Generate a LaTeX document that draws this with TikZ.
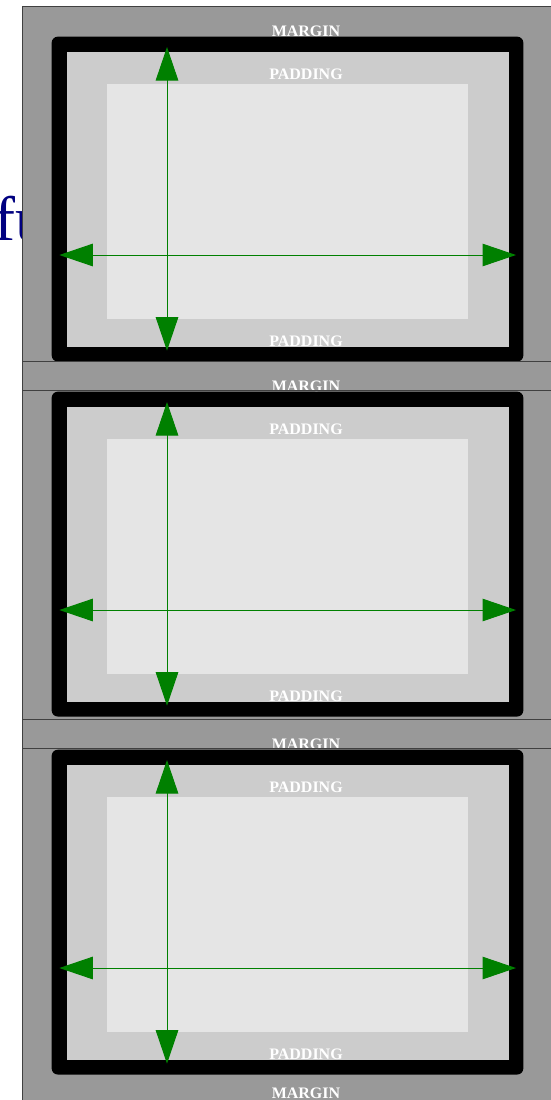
\documentclass[tikz,border=0pt]{standalone}
\usepackage{fontspec}
\setmainfont{Liberation Serif}
\usetikzlibrary{arrows.meta}
\definecolor{marginc}{HTML}{999999}
\definecolor{padc}{HTML}{CCCCCC}
\definecolor{contc}{HTML}{E5E5E5}
\definecolor{arrowc}{HTML}{008000}
\definecolor{navyc}{HTML}{000080}
\definecolor{edgec}{HTML}{404040}
\begin{document}
\begin{tikzpicture}[x=1pt,y=-1pt,
  lbl/.style={text=white,font=\bfseries\fontsize{16}{16}\selectfont,inner sep=0pt,anchor=base},
  dim/.style={draw=arrowc,line width=1pt,{Triangle[length=33.5pt,width=22.5pt]}-{Triangle[length=33.5pt,width=22.5pt]}},
  marginbox/.style={fill=marginc},
  marginedge/.style={draw=edgec,line width=1pt},
  borderbox/.style={fill=black,rounded corners=6pt},
  padbox/.style={fill=padc},
  contbox/.style={fill=contc}]
\useasboundingbox (0,0) rectangle (551,1100);
\clip (0,0) rectangle (551,1100);
\node[anchor=base west,text=navyc,font=\fontsize{63}{63}\selectfont,inner sep=0pt] (fu) at (-6,240) {fu};
\foreach \o/\mb [count=\i] in {0/390.7, 355/748.5, 713/1110} {
  \fill[marginbox] (22,\o+6) rectangle (600,\mb);
  \fill[borderbox] (51.7,\o+36.7) rectangle (523.3,\o+361.5);
  \fill[padbox] (66.7,\o+51.7) rectangle (508.7,\o+346.7);
  \fill[contbox] (106.7,\o+84) rectangle (468,\o+319.3);
  \node[lbl] (mt\i) at (306,\o+36.2) {MARGIN};
  \node[lbl] (pt\i) at (306,\o+79.3) {PADDING};
  \node[lbl] (pb\i) at (306,\o+346.7) {PADDING};
  \coordinate (vt\i) at (167,\o+47);
  \coordinate (vb\i) at (167,\o+350.7);
  \coordinate (hl\i) at (59.3,\o+255);
  \coordinate (hr\i) at (516,\o+255);
  \draw[dim] (vt\i) -- (vb\i);
  \draw[dim] (hl\i) -- (hr\i);
}
\node[lbl] (mb3) at (306,1098.7) {MARGIN};
\foreach \o/\mb in {0/390.7, 355/748.5, 713/1110} {
  \draw[marginedge] (22,\o+6) rectangle (600,\mb);
}
\end{tikzpicture}
\end{document}
